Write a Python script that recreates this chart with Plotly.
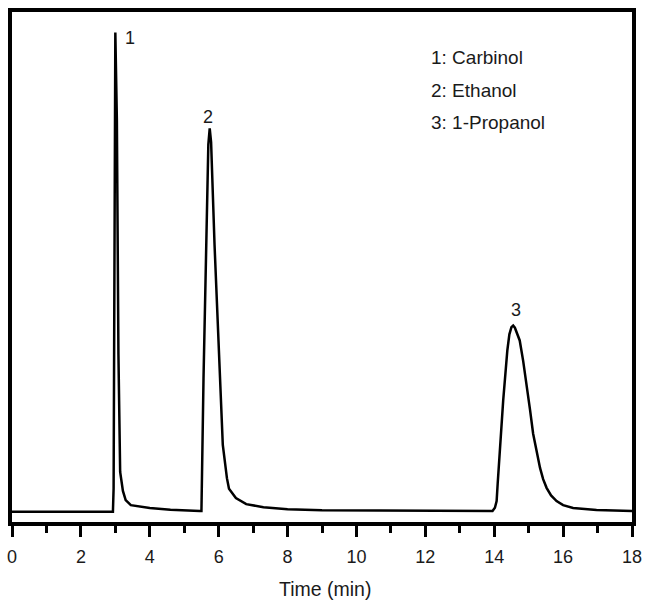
import plotly.graph_objects as go

# Chromatogram trace (time in min, signal in arbitrary units)
time_min = [0.0, 2.93, 2.95, 3.0, 3.045, 3.09, 3.14, 3.22, 3.3, 3.45, 4.0, 4.6, 5.45,
            5.50, 5.56, 5.64, 5.70, 5.74, 5.78, 5.88, 6.03, 6.12, 6.24, 6.3, 6.5, 6.8, 7.3, 8.0, 9.0, 13.9,
            13.95, 14.02, 14.07, 14.1, 14.16, 14.26, 14.38, 14.44, 14.50, 14.55, 14.60, 14.66, 14.74, 14.84, 14.94,
            15.04, 15.13, 15.23, 15.33, 15.42, 15.52, 15.65, 15.81, 16.0, 16.29, 16.97, 18.0]
signal = [2.0, 2.0, 6.6, 96.0, 78.7, 32.9, 9.8, 6.1, 4.3, 3.3, 2.75, 2.4, 2.16,
          2.16, 28.1, 54.4, 74.0, 77.2, 74.5, 54.4, 28.1, 15.1, 8.6, 6.5, 4.7, 3.5, 2.9, 2.5, 2.3, 2.16,
          2.16, 2.8, 4.1, 7.5, 13.9, 23.8, 33.6, 36.8, 38.2, 38.5, 38.1, 37.0, 35.6, 31.6, 27.1,
          22.0, 17.3, 13.6, 10.6, 8.4, 6.7, 5.2, 4.1, 3.3, 2.75, 2.36, 2.16]

peak_labels = ["1", "2", "3"]
peak_label_x = [3.44, 5.69, 14.62]
peak_label_y = [94.9, 79.4, 41.5]

legend_lines = ["1: Carbinol", "2: Ethanol", "3: 1-Propanol"]

x_ticks = [0, 2, 4, 6, 8, 10, 12, 14, 16, 18]
x_title = "Time (min)"

FONT = "Liberation Sans, Arial, sans-serif"
TXT = "#1a1a1a"

fig = go.Figure()
fig.add_trace(go.Scatter(x=time_min, y=signal, mode="lines",
                         line=dict(color="black", width=2.5, shape="linear"),
                         showlegend=False, hoverinfo="skip"))

for lab, lx, ly in zip(peak_labels, peak_label_x, peak_label_y):
    fig.add_annotation(x=lx, y=ly, text=lab, showarrow=False, xref="x", yref="y",
                       font=dict(family=FONT, size=18, color=TXT))

legend_y = [0.910, 0.847, 0.784]
for t, yy in zip(legend_lines, legend_y):
    fig.add_annotation(x=0.673, y=yy, xref="paper", yref="paper", text=t, showarrow=False,
                       xanchor="left", yanchor="middle",
                       font=dict(family=FONT, size=19, color=TXT))

# x-axis title
fig.add_annotation(x=0.505, y=-0.131, xref="paper", yref="paper", text=x_title,
                   showarrow=False, xanchor="center", yanchor="middle",
                   font=dict(family=FONT, size=19.5, color=TXT))

fig.update_layout(
    template="none",
    width=645, height=601,
    margin=dict(l=12, r=13, t=12, b=79),
    plot_bgcolor="white", paper_bgcolor="white",
    font=dict(family=FONT, size=18, color=TXT),
    xaxis=dict(range=[0, 18], tickvals=x_ticks, ticktext=[str(v) for v in x_ticks],
               automargin=False,
               showgrid=False, zeroline=False,
               showline=True, linecolor="black", linewidth=4, mirror=True,
               ticks="outside", ticklen=11, tickwidth=3, tickcolor="black",
               ticklabelstandoff=4,
               minor=dict(dtick=1, tick0=1, ticks="outside", ticklen=7, tickwidth=3,
                          tickcolor="black", showgrid=False),
               tickfont=dict(family=FONT, size=18, color=TXT)),
    yaxis=dict(range=[0, 100], automargin=False, showgrid=False, zeroline=False,
               showticklabels=False,
               showline=True, linecolor="black", linewidth=4, mirror=True, ticks=""),
)

fig.write_html("out.html", config={"displayModeBar": False},
               post_script="document.body.style.margin='0';document.body.style.overflow='hidden';")
